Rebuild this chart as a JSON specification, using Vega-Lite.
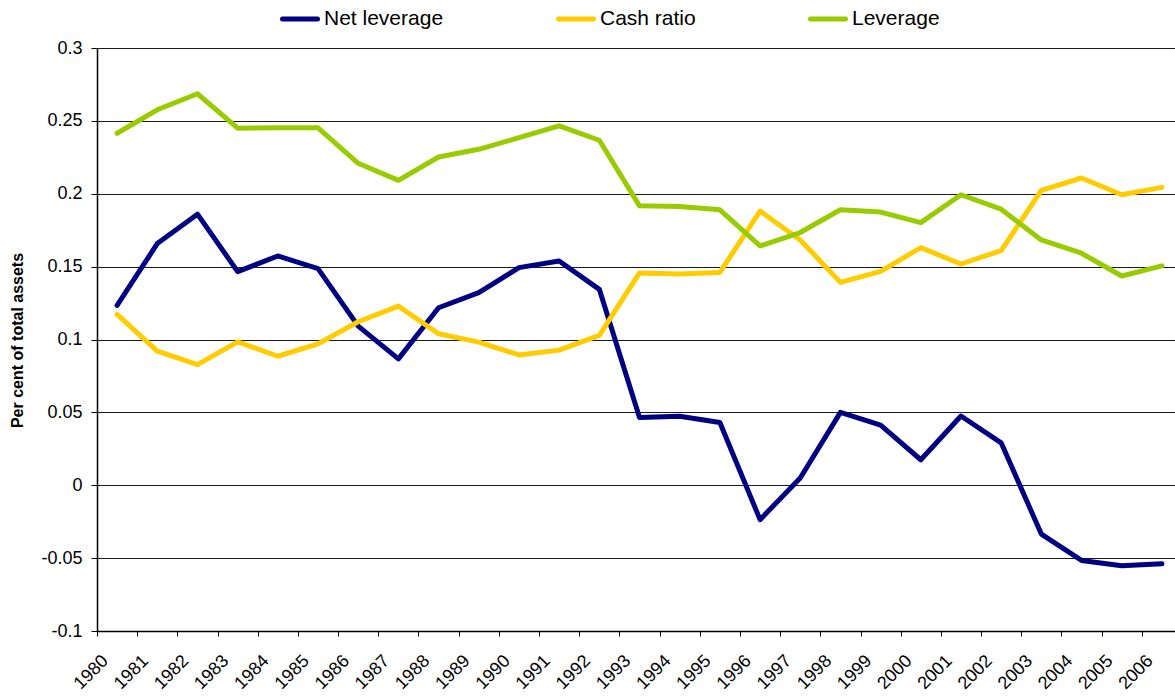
{
  "$schema": "https://vega.github.io/schema/vega-lite/v6.json",
  "width": 1078,
  "height": 583,
  "autosize": {"type": "none"},
  "padding": {"left": 97, "top": 48, "right": 0, "bottom": 65},
  "background": "white",
  "config": {
    "font": "Liberation Sans",
    "view": {"stroke": null}
  },
  "data": {
    "values": [
      {"year": "1980", "Net leverage": 0.1234, "Cash ratio": 0.1172, "Leverage": 0.2415},
      {"year": "1981", "Net leverage": 0.1658, "Cash ratio": 0.0920, "Leverage": 0.2576},
      {"year": "1982", "Net leverage": 0.1860, "Cash ratio": 0.0828, "Leverage": 0.2686},
      {"year": "1983", "Net leverage": 0.1466, "Cash ratio": 0.0984, "Leverage": 0.2450},
      {"year": "1984", "Net leverage": 0.1573, "Cash ratio": 0.0885, "Leverage": 0.2452},
      {"year": "1985", "Net leverage": 0.1486, "Cash ratio": 0.0970, "Leverage": 0.2452},
      {"year": "1986", "Net leverage": 0.1092, "Cash ratio": 0.1122, "Leverage": 0.2209},
      {"year": "1987", "Net leverage": 0.0867, "Cash ratio": 0.1229, "Leverage": 0.2092},
      {"year": "1988", "Net leverage": 0.1218, "Cash ratio": 0.1039, "Leverage": 0.2252},
      {"year": "1989", "Net leverage": 0.1321, "Cash ratio": 0.0982, "Leverage": 0.2305},
      {"year": "1990", "Net leverage": 0.1493, "Cash ratio": 0.0894, "Leverage": 0.2385},
      {"year": "1991", "Net leverage": 0.1539, "Cash ratio": 0.0927, "Leverage": 0.2466},
      {"year": "1992", "Net leverage": 0.1344, "Cash ratio": 0.1028, "Leverage": 0.2367},
      {"year": "1993", "Net leverage": 0.0465, "Cash ratio": 0.1457, "Leverage": 0.1917},
      {"year": "1994", "Net leverage": 0.0473, "Cash ratio": 0.1450, "Leverage": 0.1913},
      {"year": "1995", "Net leverage": 0.0431, "Cash ratio": 0.1460, "Leverage": 0.1890},
      {"year": "1996", "Net leverage": -0.0236, "Cash ratio": 0.1881, "Leverage": 0.1642},
      {"year": "1997", "Net leverage": 0.0050, "Cash ratio": 0.1683, "Leverage": 0.1734},
      {"year": "1998", "Net leverage": 0.0500, "Cash ratio": 0.1392, "Leverage": 0.1890},
      {"year": "1999", "Net leverage": 0.0413, "Cash ratio": 0.1468, "Leverage": 0.1874},
      {"year": "2000", "Net leverage": 0.0175, "Cash ratio": 0.1630, "Leverage": 0.1802},
      {"year": "2001", "Net leverage": 0.0475, "Cash ratio": 0.1518, "Leverage": 0.1993},
      {"year": "2002", "Net leverage": 0.0291, "Cash ratio": 0.1610, "Leverage": 0.1894},
      {"year": "2003", "Net leverage": -0.0335, "Cash ratio": 0.2023, "Leverage": 0.1683},
      {"year": "2004", "Net leverage": -0.0516, "Cash ratio": 0.2108, "Leverage": 0.1592},
      {"year": "2005", "Net leverage": -0.0553, "Cash ratio": 0.1993, "Leverage": 0.1436},
      {"year": "2006", "Net leverage": -0.0539, "Cash ratio": 0.2044, "Leverage": 0.1505}
    ]
  },
  "transform": [
    {"fold": ["Net leverage", "Cash ratio", "Leverage"], "as": ["series", "value"]}
  ],
  "mark": {"type": "line", "strokeWidth": 5, "strokeCap": "round", "strokeJoin": "round"},
  "encoding": {
    "x": {
      "field": "year",
      "type": "ordinal",
      "scale": {"type": "band", "range": [0, 1085], "paddingInner": 0, "paddingOuter": 0},
      "axis": {
        "title": null,
        "domainColor": "#000000",
        "domainWidth": 1.5,
        "tickColor": "#000000",
        "tickSize": 5,
        "tickWidth": 1,
        "tickBand": "extent",
        "labelAngle": -45,
        "labelAlign": "right",
        "labelBaseline": "middle",
        "labelFontSize": 18,
        "labelColor": "#000000",
        "labelOffset": -12,
        "labelPadding": 22,
        "labelOverlap": false,
        "grid": false
      }
    },
    "y": {
      "field": "value",
      "type": "quantitative",
      "scale": {"domain": [-0.1, 0.3], "nice": false, "zero": false},
      "axis": {
        "title": "Per cent of total assets",
        "titleFontSize": 16,
        "titleFontWeight": "bold",
        "titleColor": "#000000",
        "titleAngle": -90,
        "titleX": -80,
        "titleY": 292,
        "titleAlign": "center",
        "titleBaseline": "middle",
        "values": [-0.1, -0.05, 0, 0.05, 0.1, 0.15, 0.2, 0.25, 0.3],
        "labelExpr": "'' + round(datum.value * 100) / 100",
        "labelFontSize": 18,
        "labelColor": "#000000",
        "labelPadding": 9,
        "tickSize": 6,
        "tickColor": "#000000",
        "domainColor": "#000000",
        "domainWidth": 1.5,
        "grid": true,
        "gridColor": "#000000",
        "gridWidth": 1,
        "gridOpacity": 0.9
      }
    },
    "color": {
      "field": "series",
      "type": "nominal",
      "scale": {
        "domain": ["Net leverage", "Cash ratio", "Leverage"],
        "range": ["#000080", "#FFCC00", "#99CC00"]
      },
      "legend": {
        "title": null,
        "orient": "none",
        "direction": "horizontal",
        "legendX": 183,
        "legendY": -49,
        "symbolType": "stroke",
        "symbolSize": 1225,
        "symbolStrokeWidth": 5,
        "labelFontSize": 21,
        "labelColor": "#000000",
        "labelOffset": 4,
        "columnPadding": 104,
        "encode": {"symbols": {"update": {"strokeCap": {"value": "round"}}}}
      }
    }
  }
}
